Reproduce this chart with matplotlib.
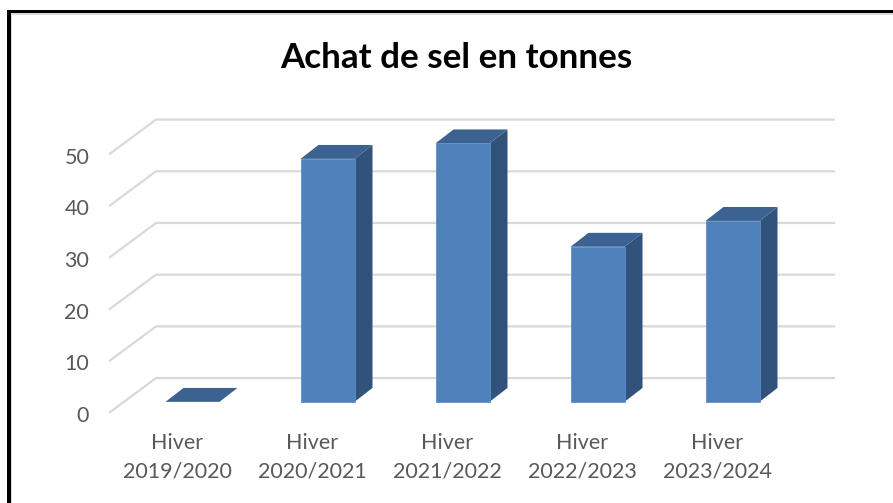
import matplotlib
matplotlib.use("Agg")
import matplotlib.pyplot as plt
from matplotlib.patches import Rectangle

plt.rcParams['font.family'] = ['Lato', 'DejaVu Sans']

categories = ["Hiver\n2019/2020", "Hiver\n2020/2021", "Hiver\n2021/2022", "Hiver\n2022/2023", "Hiver\n2023/2024"]
values = [0, 47, 50, 30, 35]
grid_values = [0, 10, 20, 30, 40, 50]
title = "Achat de sel en tonnes"

W, H = 893, 503
fig = plt.figure(figsize=(W / 100, H / 100), dpi=100, facecolor="white")

# plot region in pixels
L, R, T, B = 110, 834, 119, 414
ax = fig.add_axes([L / W, 1 - B / H, (R - L) / W, (B - T) / H])
PX_X = 135.0   # px per category
PX_Y = 5.2     # px per unit
X_FIRST = 192.5
ax.set_xlim((L - X_FIRST) / PX_X, (R - X_FIRST) / PX_X)
ax.set_ylim(-(B - 403.5) / PX_Y, (403.5 - T) / PX_Y)
ax.patch.set_visible(False)
for s in ax.spines.values():
    s.set_visible(False)

# floor/wall depth in data units
wall_dx, wall_up, wall_down = 46 / PX_X, 4.6, -2.0
x0 = ax.get_xlim()[0]
x1 = ax.get_xlim()[1]
for v in grid_values:
    ax.plot([x0, x0 + wall_dx, x1], [v + wall_down, v + wall_up, v + wall_up],
            color="#D9D9D9", lw=1.6, zorder=1, solid_joinstyle="miter", clip_on=False)

# bars
bw = 54 / PX_X
ddx, ddy = 18 / PX_X, 14 / PX_Y
edge = "#5F8EC6"
for i, v in enumerate(values):
    l, r = i - bw / 2, i + bw / 2
    if v > 0:
        ax.fill([r, r + ddx, r + ddx, r], [0, ddy, v + ddy, v], color="#31537B", lw=0, zorder=3, clip_on=False)
    ax.fill([l, r, r + ddx, l + ddx], [v, v, v + ddy, v + ddy], color="#3C6291", lw=0, zorder=3, clip_on=False)
    if v > 0:
        ax.add_patch(Rectangle((l, 0), bw, v, facecolor="#4F81BD", edgecolor=edge, lw=0.6, zorder=4, clip_on=False))

# ticks
ax.set_yticks([v + wall_down - 0.35 for v in grid_values], [str(v) for v in grid_values])
ax.set_xticks([i - 15 / PX_X for i in range(len(categories))], categories)
ax.tick_params(axis="both", length=0, labelsize=15.5, labelcolor="#595959")
ax.tick_params(axis="y", pad=15)
ax.tick_params(axis="x", pad=14)
for t in ax.get_xticklabels():
    t.set_linespacing(1.5)

fig.text(456 / W, 1 - 58 / H, title, ha="center", va="center", fontsize=25.2, fontweight="bold", color="black")

# outer frame
def px_rect(x, y, w, h, c, z):
    fig.add_artist(Rectangle((x / W, 1 - (y + h) / H), w / W, h / H, transform=fig.transFigure,
                             facecolor=c, edgecolor="none", zorder=z))
px_rect(10, 13, W - 10, 1.6, "#D9D9D9", 5)
px_rect(10, 13, 1.8, H - 13, "#D9D9D9", 5)
px_rect(7, 10, W - 7, 3, "black", 6)
px_rect(7, 10, 3.5, H - 10, "black", 6)

fig.savefig("out.png", dpi=100, facecolor="white")
